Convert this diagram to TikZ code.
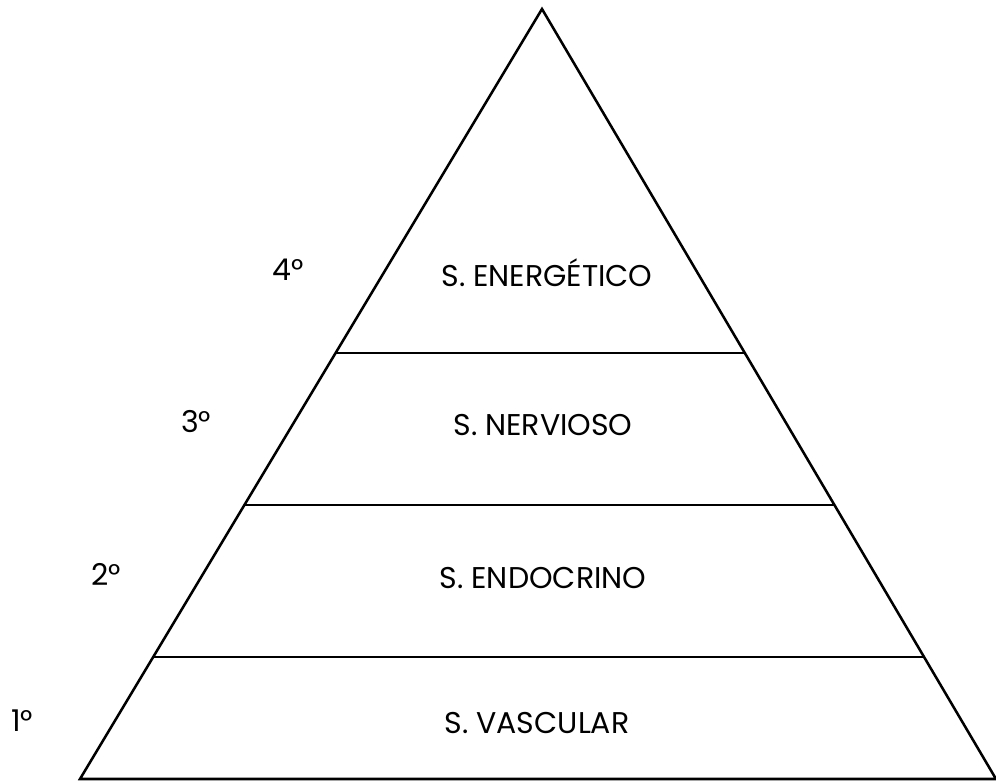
\documentclass[tikz,border=0pt]{standalone}
\usepackage{fontspec}
\setmainfont{Poppins}
\begin{document}
\begin{tikzpicture}[x=0.75pt,y=-0.75pt,
  lbl/.style={font=\fontsize{22.5}{24}\selectfont, inner sep=0pt},
  num/.style={font=\fontsize{22.5}{24}\selectfont, inner sep=0pt},
  side/.style={line width=1.9pt, line join=miter},
  band/.style={line width=1.3pt}]
\useasboundingbox (0,0) rectangle (996,782);
\coordinate (apex) at (542,9);
\coordinate (bl) at (80,779);
\coordinate (br) at (996,779);
\draw[side] (bl) -- (apex) -- (br) -- cycle;
\path (apex) -- (bl) coordinate[pos=0.4468] (l3) coordinate[pos=0.6442] (l2) coordinate[pos=0.8416] (l1);
\path (apex) -- (br) coordinate[pos=0.4468] (r3) coordinate[pos=0.6442] (r2) coordinate[pos=0.8416] (r1);
\draw[band] (l3) -- (r3);
\draw[band] (l2) -- (r2);
\draw[band] (l1) -- (r1);
\node[lbl] (t4) at (547,273) {S. ENERGÉTICO};
\node[lbl] (t3) at (543,425) {S. NERVIOSO};
\node[lbl] (t2) at (543,578) {S. ENDOCRINO};
\node[lbl] (t1) at (537,723) {S. VASCULAR};
\node[num] (n4) at (288,270) {4°};
\node[num] (n3) at (196,422) {3°};
\node[num] (n2) at (106,574) {2°};
\node[num] (n1) at (22,721) {1°};
\end{tikzpicture}
\end{document}
